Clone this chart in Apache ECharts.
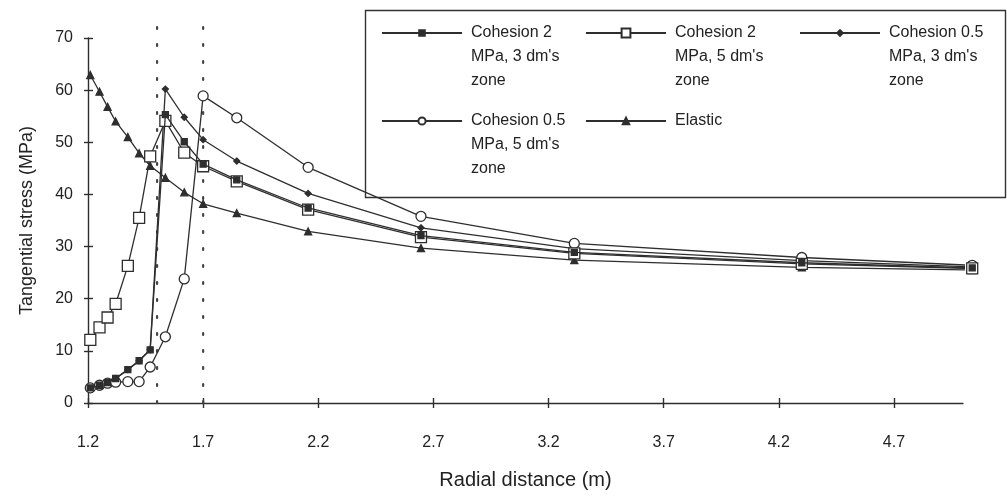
<!DOCTYPE html>
<html>
<head>
<meta charset="utf-8">
<title>Tangential stress vs radial distance</title>
<script src="https://cdn.jsdelivr.net/npm/echarts@6/dist/echarts.min.js"></script>
<style>
  html, body { margin: 0; padding: 0; background: #ffffff; }
  #chart { width: 1007px; height: 497px; }
</style>
</head>
<body>
<div id="chart"></div>
<script>
// Radial position of each computed node (m)
const radialDistance = [1.21, 1.25, 1.285, 1.32, 1.373, 1.422, 1.47, 1.536, 1.618, 1.70, 1.846, 2.156, 2.646, 3.312, 4.30, 5.04];

// Tangential stress (MPa) at each node
const cohesion2Zone3  = [2.9, 3.4, 3.9, 4.7, 6.4, 8.1, 10.2, 55.3, 50.1, 45.8, 42.8, 37.4, 32.1, 28.9, 26.9, 25.9];
const cohesion2Zone5  = [12.1, 14.5, 16.4, 19.0, 26.3, 35.5, 47.3, 54.1, 48.0, 45.4, 42.5, 37.1, 31.8, 28.7, 26.7, 25.8];
const cohesion05Zone3 = [2.9, 3.4, 3.9, 4.7, 6.4, 8.1, 10.2, 60.2, 54.8, 50.5, 46.4, 40.2, 33.6, 29.6, 27.3, 26.1];
const cohesion05Zone5 = [2.9, 3.4, 3.8, 4.0, 4.1, 4.1, 6.9, 12.7, 23.8, 58.9, 54.7, 45.2, 35.8, 30.6, 27.9, 26.4];
const elastic         = [62.9, 59.7, 56.8, 54.0, 51.0, 47.9, 45.5, 43.2, 40.4, 38.2, 36.4, 32.9, 29.7, 27.4, 26.0, 25.5];

// Outer radius of the 3 dm and 5 dm plastic zones (m)
const zoneBoundaries = [1.5, 1.7];

// Axis ticks
const xTickValues = [1.2, 1.7, 2.2, 2.7, 3.2, 3.7, 4.2, 4.7];
const yTickValues = [0, 10, 20, 30, 40, 50, 60, 70];

const seriesNames = [
  "Cohesion 2\nMPa, 3 dm's\nzone",
  "Cohesion 2\nMPa, 5 dm's\nzone",
  "Cohesion 0.5\nMPa, 3 dm's\nzone",
  "Cohesion 0.5\nMPa, 5 dm's\nzone",
  "Elastic"
];

const INK = '#2e2e2e';
const FONT = "'Liberation Sans', Arial, sans-serif";

const GRID = { left: 88, right: 44, top: 38, bottom: 94 };
const plotWidth = 1007 - GRID.left - GRID.right;
const plotHeight = 497 - GRID.top - GRID.bottom;

function pairs(values) {
  return radialDistance.map((r, i) => [r, values[i]]);
}

function stressSeries(name, values, symbol, size, fill, z) {
  return {
    type: 'line',
    name: name,
    data: pairs(values),
    symbol: symbol,
    symbolSize: size,
    showAllSymbol: true,
    clip: false,
    z: z,
    lineStyle: { color: INK, width: 1.3 },
    itemStyle: { color: fill, borderColor: INK, borderWidth: 1.3 },
    emphasis: { disabled: true }
  };
}

// Dotted vertical lines at the plastic-zone boundaries, reaching a little above the top tick
const boundarySeries = zoneBoundaries.map(r => ({
  type: 'line',
  data: [[r, 0], [r, 73]],
  symbol: 'none',
  clip: false,
  silent: true,
  z: 1,
  lineStyle: { color: '#444', width: 2.2, type: [2, 15], cap: 'round' },
  emphasis: { disabled: true }
}));

// One legend block per entry. Blank lines are put in front of the label so that
// the icon, which the legend centres on the text block, sits level with the first line.
const LINE_H = 24;
function legendBlock(name, left, iconY, itemHeight) {
  const lines = name.split('\n').length;
  const totalLines = 2 * lines - 1;
  return {
    data: [name],
    left: left,
    top: iconY - totalLines * LINE_H / 2,
    orient: 'horizontal',
    itemWidth: 80,
    itemHeight: itemHeight,
    padding: 0,
    selectedMode: false,
    formatter: n => '\n'.repeat(lines - 1) + n,
    textStyle: {
      fontFamily: FONT,
      fontSize: 16,
      color: '#222',
      lineHeight: LINE_H,
      padding: [0, 0, 0, 4]
    }
  };
}

const option = {
  animation: false,
  backgroundColor: '#ffffff',
  grid: GRID,
  legend: [
    legendBlock(seriesNames[0], 381, 33, 7),
    legendBlock(seriesNames[1], 585, 33, 11),
    legendBlock(seriesNames[2], 799, 33, 7),
    legendBlock(seriesNames[3], 381, 121, 9),
    legendBlock(seriesNames[4], 585, 121, 8)
  ],
  graphic: [{
    type: 'rect',
    left: 363, top: 8,
    shape: { width: 640, height: 187 },
    style: { fill: 'none', stroke: '#333', lineWidth: 1.4 },
    silent: true
  }],
  xAxis: [{
    type: 'value',
    min: 1.2, max: 5.0,
    name: 'Radial distance (m)',
    nameLocation: 'middle',
    nameGap: 67,
    nameTextStyle: { fontFamily: FONT, fontSize: 20, color: '#222' },
    axisLine: { lineStyle: { color: INK, width: 1.4 } },
    axisTick: { length: 5, customValues: xTickValues, lineStyle: { color: INK, width: 1.4 } },
    axisLabel: { customValues: xTickValues, margin: 32, fontFamily: FONT, fontSize: 16, color: '#222',
                 formatter: v => v.toFixed(1) },
    splitLine: { show: false }
  }, {
    // upper half of the crossing tick marks
    type: 'value',
    position: 'top',
    offset: -plotHeight,
    min: 1.2, max: 5.0,
    axisLine: { show: false },
    axisTick: { length: 5, customValues: xTickValues, lineStyle: { color: INK, width: 1.4 } },
    axisLabel: { show: false },
    splitLine: { show: false }
  }],
  yAxis: [{
    type: 'value',
    min: 0, max: 70, interval: 10,
    name: 'Tangential stress (MPa)',
    nameLocation: 'middle',
    nameGap: 52,
    nameTextStyle: { fontFamily: FONT, fontSize: 18, color: '#222' },
    axisLine: { show: true, lineStyle: { color: INK, width: 1.4 } },
    axisTick: { show: true, length: 4, customValues: yTickValues, lineStyle: { color: INK, width: 1.4 } },
    axisLabel: { margin: 15, fontFamily: FONT, fontSize: 16, color: '#222' },
    splitLine: { show: false }
  }, {
    // right-hand half of the crossing tick marks, moved onto the left axis line
    type: 'value',
    position: 'right',
    offset: -plotWidth,
    min: 0, max: 70, interval: 10,
    axisLine: { show: false },
    axisTick: { show: true, length: 5, customValues: yTickValues, lineStyle: { color: INK, width: 1.4 } },
    axisLabel: { show: false },
    splitLine: { show: false }
  }],
  series: [
    ...boundarySeries,
    stressSeries(seriesNames[4], elastic, 'triangle', 7, INK, 3),
    stressSeries(seriesNames[2], cohesion05Zone3, 'diamond', 6, INK, 4),
    stressSeries(seriesNames[3], cohesion05Zone5, 'circle', 10, '#ffffff', 5),
    stressSeries(seriesNames[1], cohesion2Zone5, 'rect', 11, '#ffffff', 6),
    stressSeries(seriesNames[0], cohesion2Zone3, 'rect', 6, INK, 7)
  ]
};

const chart = echarts.init(document.getElementById('chart'), null, { renderer: 'canvas' });
chart.setOption(option);
</script>
</body>
</html>
